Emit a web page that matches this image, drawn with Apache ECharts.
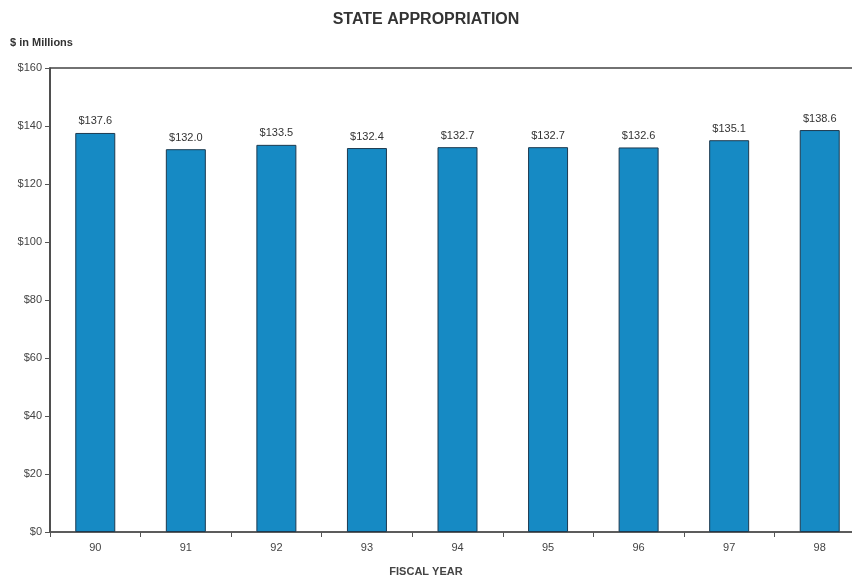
<!DOCTYPE html>
<html><head><meta charset="utf-8">
<script src="https://cdn.jsdelivr.net/npm/echarts@6/dist/echarts.min.js"></script>
<style>html,body{margin:0;padding:0;background:#fff}#c{width:852px;height:580px}</style>
</head><body><div id="c"></div>
<script>
const categories = ["90","91","92","93","94","95","96","97","98"];
const values = [137.6,132.0,133.5,132.4,132.7,132.7,132.6,135.1,138.6];
const yTicks = [0,20,40,60,80,100,120,140,160];

const chart = echarts.init(document.getElementById('c'));
chart.setOption({
  backgroundColor:'#fff',
  animation:false,
  title:{text:'STATE APPROPRIATION',left:'center',top:7,
    textStyle:{fontFamily:'Liberation Sans, Arial',fontSize:16,fontWeight:'bold',color:'#333'}},
  graphic:[
    {type:'text',left:10,top:37,style:{text:'$ in Millions',font:'bold 11px "Liberation Sans", Arial',fill:'#333'}},
    {type:'text',left:'center',top:566,style:{text:'FISCAL YEAR',font:'bold 11px "Liberation Sans", Arial',fill:'#444'}}
  ],
  grid:{left:50,right:-13,top:68,bottom:48,outerBoundsMode:'none',containLabel:false,show:true,borderColor:'#444',borderWidth:1.5},
  xAxis:{type:'category',data:categories,
    axisLine:{lineStyle:{color:'#555',width:1.5}},
    axisTick:{show:true,alignWithLabel:false,length:5,lineStyle:{color:'#555'}},
    axisLabel:{fontFamily:'Liberation Sans, Arial',fontSize:11,color:'#444',margin:10}},
  yAxis:{type:'value',min:yTicks[0],max:yTicks[yTicks.length-1],interval:20,
    axisLine:{show:true,lineStyle:{color:'#444',width:1.5}},
    axisTick:{show:true,length:5,lineStyle:{color:'#555'}},
    splitLine:{show:false},
    axisLabel:{fontFamily:'Liberation Sans, Arial',fontSize:11,color:'#444',margin:8,formatter:v=>'$'+v}},
  series:[{type:'bar',data:values,barWidth:40,
    itemStyle:{color:'#168ac4',borderColor:'#1d3a50',borderWidth:1},
    label:{show:true,position:'top',distance:6,fontFamily:'Liberation Sans, Arial',fontSize:11,color:'#333',
      formatter:p=>'$'+p.value.toFixed(1)}}]
});
</script></body></html>
